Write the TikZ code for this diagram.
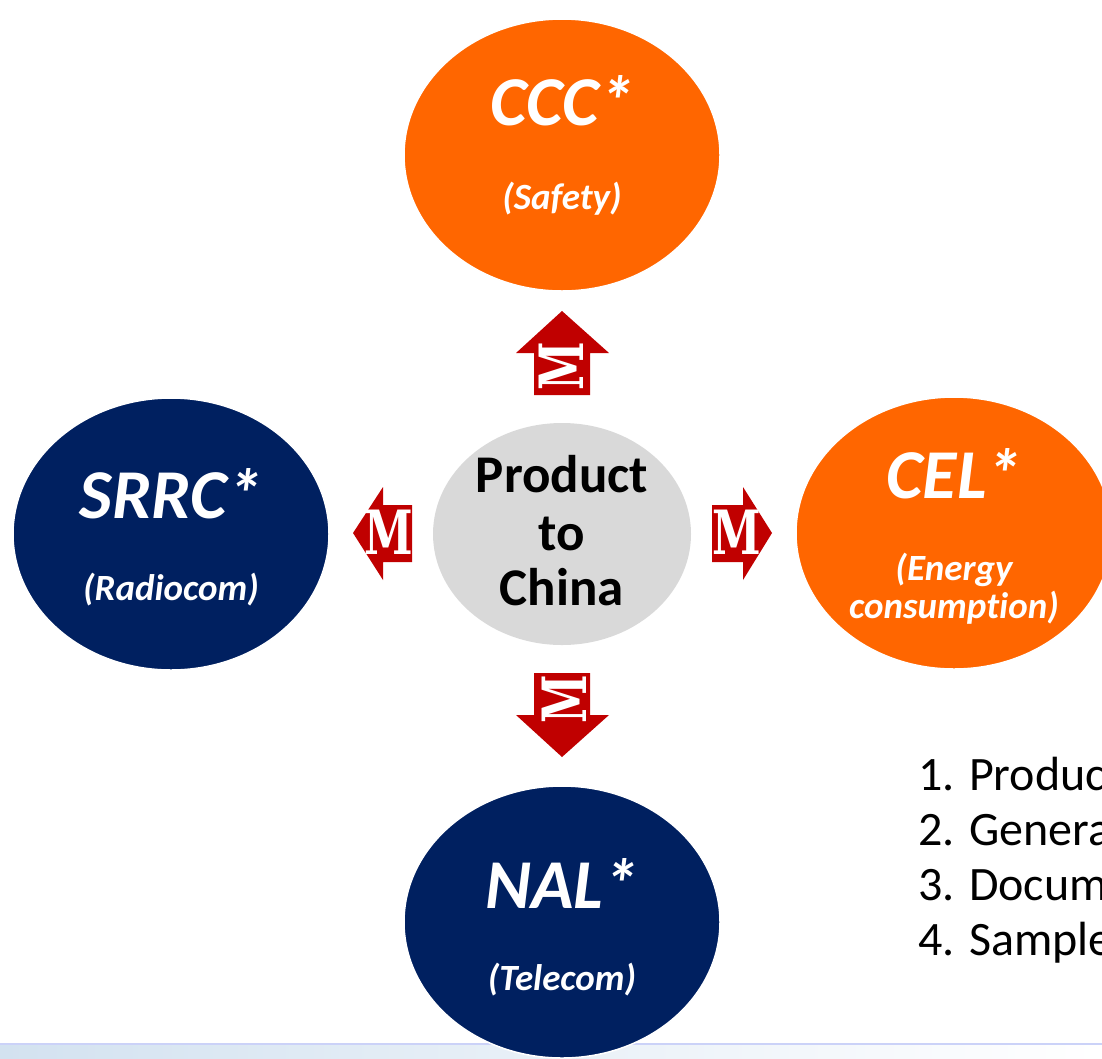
\documentclass[tikz,border=0pt]{standalone}
\usepackage{fontspec}
\setmainfont{Carlito}[Ligatures=NoCommon]
\newfontfamily\mfont{DejaVu Serif}
\usetikzlibrary{shapes.geometric,calc}

\definecolor{chorange}{HTML}{FF6600}
\definecolor{chnavy}{HTML}{002060}
\definecolor{chgray}{HTML}{D9D9D9}
\definecolor{chred}{HTML}{C00000}
\definecolor{chband}{HTML}{D3E2F0}

\begin{document}
\begin{tikzpicture}[x=1pt,y=-1pt,
	cert/.style={ellipse, draw=white, line width=1.5pt, minimum width=316pt, minimum height=272pt, inner sep=0pt},
	title/.style={text=white, anchor=base, inner sep=0pt, font=\fontsize{70}{70}\selectfont\bfseries\itshape},
	sub/.style={text=white, anchor=base, inner sep=0pt, font=\fontsize{37}{40}\selectfont\bfseries\itshape},
	centre/.style={anchor=base, inner sep=0pt, font=\fontsize{53}{53}\selectfont\bfseries},
	redarrow/.style={fill=chred},
	mletter/.style={text=white, inner sep=0pt, font=\fontsize{61}{61}\selectfont\mfont\bfseries},
	steptext/.style={anchor=base west, inner sep=0pt, font=\fontsize{48}{48}\selectfont}]
\useasboundingbox (0,0) rectangle (1102,1058);
\clip (0,0) rectangle (1102,1058);

% bottom band
\shade[left color=chband, right color=white] (0,1044) rectangle (1102,1058);
\fill[chband!80!blue!60] (0,1043) rectangle (1102,1045);

% the four certificates
\node[cert, fill=chorange] (ccc) at (562,155) {};
\node[cert, fill=chnavy] (srrc) at (171,534) {};
\node[cert, fill=chorange] (cel) at (954,533) {};
\node[cert, fill=chnavy] (nal) at (562,922) {};

\node[title] (ccct) at ($(ccc)+(0,-30)$) {CCC*};
\node[sub] (cccs) at ($(ccc)+(0,54)$) {(Safety)};
\node[title] (srrct) at ($(srrc)+(0,-16)$) {SRRC*};
\node[sub] (srrcs) at ($(srrc)+(0,66)$) {(Radiocom)};
\node[title] (celt) at ($(cel)+(0,-35)$) {CEL*};
\node[sub] (cels) at ($(cel)+(0,47)$) {(Energy};
\node[sub] (cels2) at ($(cel)+(0,85)$) {consumption)};
\node[title] (nalt) at ($(nal)+(0,-14)$) {NAL*};
\node[sub] (nals) at ($(nal)+(0,68)$) {(Telecom)};

% product in the middle
\node[ellipse, fill=chgray, minimum width=258pt, minimum height=222pt, inner sep=0pt] (prod) at (562,534) {};
\node[centre] (p1) at (562,492) {Product};
\node[centre] (p2) at (562,550) {to};
\node[centre] (p3) at (562,605) {China};

% arrows with M
\fill[redarrow] (534,395) -- (534,353) -- (516,353) -- (562,311) -- (609,353) -- (590,353) -- (590,395) -- cycle;
\fill[redarrow] (534,673) -- (590,673) -- (590,715) -- (609,715) -- (562,757) -- (516,715) -- (534,715) -- cycle;
\fill[redarrow] (412,505) -- (383,505) -- (383,487) -- (353,533) -- (383,580) -- (383,562) -- (412,562) -- cycle;
\fill[redarrow] (712,505) -- (743,505) -- (743,487) -- (772,533) -- (743,580) -- (743,562) -- (712,562) -- cycle;

\node[mletter, rotate=90] (mup) at (561,366) {\scalebox{0.72}[1]{M}};
\node[mletter, rotate=90] (mdown) at (564,699) {\scalebox{0.72}[1]{M}};
\node[mletter] (mleft) at (389,532) {\scalebox{0.72}[1]{M}};
\node[mletter] (mright) at (737,532) {\scalebox{0.72}[1]{M}};

% steps, cut at the right edge
\node[steptext] (s1) at (918,790) {1. Produc};
\node[steptext] (s2) at (918,845) {2. Genera};
\node[steptext] (s3) at (918,900) {3. Docum};
\node[steptext] (s4) at (918,955) {4. Sample};
\end{tikzpicture}
\end{document}
